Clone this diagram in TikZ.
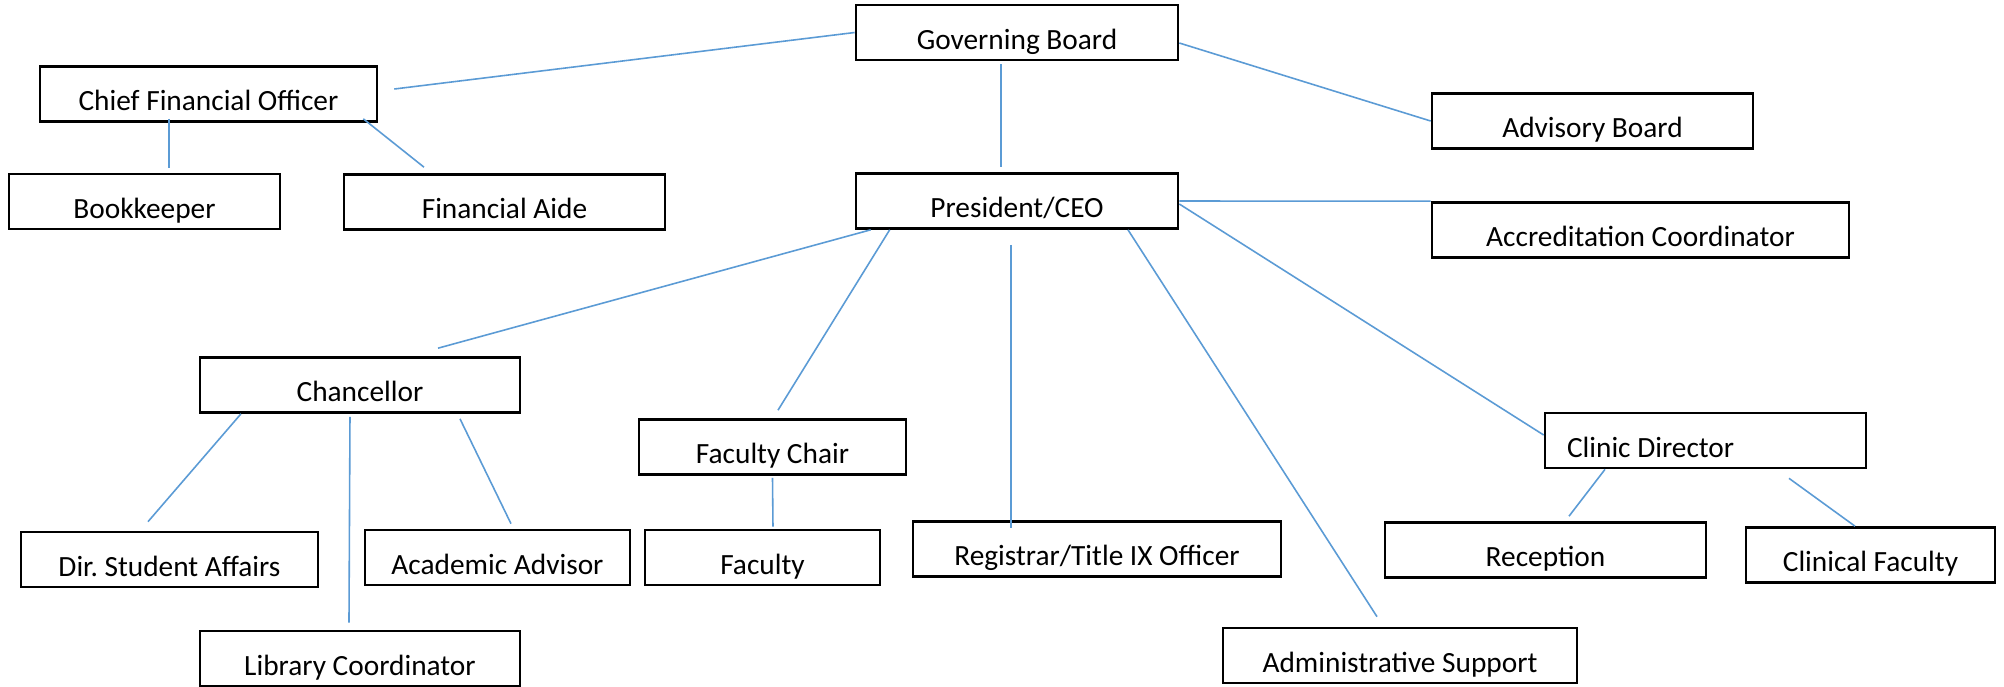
\documentclass[tikz,border=0pt]{standalone}
\usepackage{fontspec}
\setmainfont{Carlito}
\usetikzlibrary{positioning}
\definecolor{linkblue}{RGB}{91,155,213}

\begin{document}
\begin{tikzpicture}[on grid,
  box/.style={draw, line width=0.75pt, minimum width=#1, minimum height=0.55cm, inner sep=0pt, text height=2.45ex, text depth=0.45ex, font=\fontsize{8.35}{10}\selectfont},
  link/.style={draw=linkblue, line width=0.45pt}]
\useasboundingbox[fill=white] (-10.17,0.325) rectangle (9.87,-6.535);

\node[box=3.22cm] (gb) {Governing Board}; \node[box=3.22cm, below=1.685cm of gb] (pres) {President/CEO};
\node[box=3.37cm, below left=0.615cm and 8.085cm of gb] (cfo) {Chief Financial Officer}; \node[box=2.71cm, below left=1.075cm and 0.64cm of cfo] (book) {Bookkeeper}; \node[box=3.21cm, below right=1.08cm and 2.96cm of cfo] (aide) {Financial Aide};
\node[box=3.21cm, below right=0.885cm and 5.755cm of gb] (adv) {Advisory Board}; \node[box=4.17cm, below right=0.29cm and 6.235cm of pres] (accr) {Accreditation Coordinator};
\node[box=3.20cm, below left=1.84cm and 6.57cm of pres] (chan) {Chancellor}; \node[box=2.97cm, below left=1.745cm and 1.905cm of chan] (dsa) {Dir.\ Student Affairs}; \node[box=2.65cm, below right=1.725cm and 1.375cm of chan] (acad) {Academic Advisor}; \node[box=3.20cm, below=2.735cm of chan] (lib) {Library Coordinator};
\node[box=2.67cm, below left=2.46cm and 2.445cm of pres] (fchair) {Faculty Chair}; \node[box=2.35cm, below left=1.105cm and 0.1cm of fchair] (fac) {Faculty};
\node[box=3.68cm, below right=3.48cm and 0.8cm of pres] (reg) {Registrar/Title IX Officer}; \node[box=3.54cm, below right=4.545cm and 3.83cm of pres] (admin) {Administrative Support};
\node[box=3.21cm, inner xsep=0.22cm, below right=2.395cm and 6.885cm of pres] (clinic) {\makebox[2.77cm][l]{Clinic Director}}; \node[box=3.21cm, below left=1.095cm and 1.6cm of clinic] (recep) {Reception}; \node[box=2.49cm, below right=1.145cm and 1.65cm of clinic] (cfac) {Clinical Faculty};

\draw[link] ([xshift=0.16cm,yshift=0.05cm]cfo.east) -- (gb.west);
\draw[link] ([xshift=-0.395cm,yshift=0.04cm]cfo.south) -- ([xshift=0.245cm,yshift=0.05cm]book.north);
\draw[link] ([xshift=-0.15cm,yshift=0.04cm]cfo.south east) -- ([xshift=-0.805cm,yshift=0.06cm]aide.north);
\draw[link] ([xshift=-0.16cm,yshift=-0.03cm]gb.south) -- ([xshift=-0.16cm,yshift=0.05cm]pres.north);
\draw[link] ([yshift=-0.105cm]gb.east) -- (adv.west);
\draw[link] (pres.east) -- (accr.north west);
\draw[link] ([yshift=-0.03cm]pres.east) -- ([yshift=0.055cm]clinic.west);
\draw[link] ([xshift=0.16cm]pres.south west) -- ([xshift=0.78cm,yshift=0.08cm]chan.north);
\draw[link] ([xshift=0.35cm]pres.south west) -- ([xshift=0.055cm,yshift=0.08cm]fchair.north);
\draw[link] ([xshift=-0.06cm,yshift=-0.15cm]pres.south) -- ([xshift=-0.86cm,yshift=-0.08cm]reg.north);
\draw[link] ([xshift=1.11cm]pres.south) -- ([xshift=-0.23cm,yshift=0.1cm]admin.north);
\draw[link] ([xshift=-1.19cm]chan.south) -- ([xshift=-0.215cm,yshift=0.09cm]dsa.north);
\draw[link] ([xshift=-0.1cm,yshift=-0.03cm]chan.south) -- ([xshift=-0.11cm,yshift=0.07cm]lib.north);
\draw[link] ([xshift=1.0cm,yshift=-0.05cm]chan.south) -- ([xshift=0.135cm,yshift=0.05cm]acad.north);
\draw[link] ([yshift=-0.02cm]fchair.south) -- ([xshift=0.105cm,yshift=0.02cm]fac.north);
\draw[link] ([xshift=-1.005cm]clinic.south) -- ([xshift=0.235cm,yshift=0.05cm]recep.north);
\draw[link] ([xshift=0.835cm,yshift=-0.09cm]clinic.south) -- ([xshift=-0.155cm]cfac.north);
\end{tikzpicture}
\end{document}
